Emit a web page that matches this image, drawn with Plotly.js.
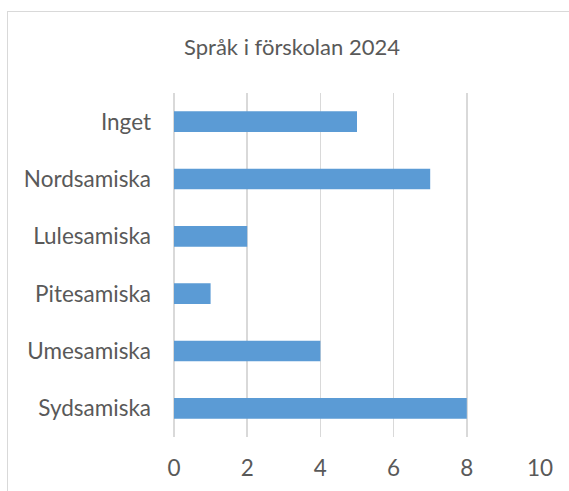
<!DOCTYPE html>
<html>
<head>
<meta charset="utf-8">
<script src="https://cdn.plot.ly/plotly-3.0.1.min.js"></script>
<style>
  html, body { margin: 0; padding: 0; background: #fff; overflow: hidden; }
  #wrap { position: relative; width: 569px; height: 491px; }
  #frame { position: absolute; left: 7px; top: 11px; width: 570px; height: 490px; border: 1px solid #d9d9d9; box-sizing: border-box; pointer-events: none; }
  #chart { position: absolute; left: 0; top: 0; width: 569px; height: 491px; }
</style>
</head>
<body>
<div id="wrap">
  <div id="chart"></div>
  <div id="frame"></div>
</div>
<script>
const categories = ["Sydsamiska", "Umesamiska", "Pitesamiska", "Lulesamiska", "Nordsamiska", "Inget"];
const values = [8, 4, 1, 2, 7, 5];
const xTicks = [0, 2, 4, 6, 8, 10];
const titleText = "Språk i förskolan 2024";

const fontFamily = "Lato, 'Open Sans', sans-serif";
const textColor = "#595959";

Plotly.newPlot("chart", [{
  type: "bar",
  orientation: "h",
  x: values,
  y: categories,
  marker: { color: "#5B9BD5" },
  hoverinfo: "x+y"
}], {
  width: 569,
  height: 491,
  margin: { l: 174, r: 29, t: 93, b: 54 },
  paper_bgcolor: "#ffffff",
  plot_bgcolor: "#ffffff",
  bargap: 0.64,
  showlegend: false,
  title: {
    text: titleText,
    font: { family: fontFamily, size: 22, color: textColor },
    x: 292 / 569, xanchor: "center",
    y: 1 - 47 / 491, yanchor: "middle"
  },
  xaxis: {
    range: [0, 10],
    tickvals: xTicks,
    ticktext: xTicks.map(String),
    showgrid: true,
    gridcolor: "#d9d9d9",
    gridwidth: 1.5,
    zeroline: true,
    zerolinecolor: "#d9d9d9",
    zerolinewidth: 1.5,
    showline: false,
    ticks: "",
    ticklabelstandoff: 15,
    tickfont: { family: fontFamily, size: 22.5, color: textColor },
    fixedrange: true
  },
  yaxis: {
    type: "category",
    categoryorder: "array",
    categoryarray: categories,
    showgrid: false,
    zeroline: false,
    showline: false,
    ticks: "",
    ticklabelstandoff: 22,
    tickfont: { family: fontFamily, size: 22.5, color: textColor },
    fixedrange: true
  }
}, { displayModeBar: false, staticPlot: true });
</script>
</body>
</html>
